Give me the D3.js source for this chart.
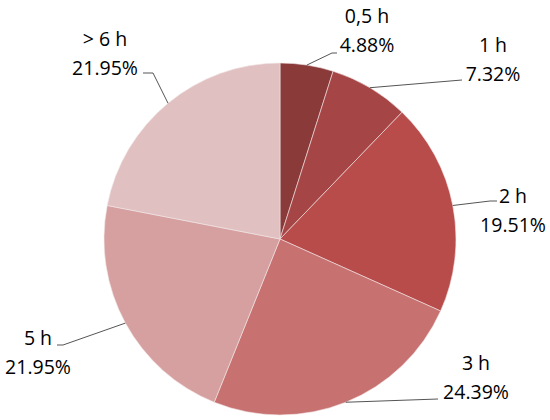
<!DOCTYPE html>
<html><head><meta charset="utf-8">
<script src="https://cdn.jsdelivr.net/npm/d3@7"></script>
<style>body{margin:0;background:#fff}svg{display:block}</style>
</head><body>
<svg id="c" width="550" height="420"></svg>
<script>
const categories = ["0,5 h", "1 h", "2 h", "3 h", "5 h", "> 6 h"];
const counts = [2, 3, 8, 10, 9, 9];
const percentLabels = ["4.88%", "7.32%", "19.51%", "24.39%", "21.95%", "21.95%"];
const colors = ["#8b3a3a", "#a54545", "#b84c4b", "#c87171", "#d6a0a0", "#e0c0c1"];
// label layout: text centre x, first baseline y, leader elbow points
const labelLayout = [
  {x: 367, y: 23, pts: [[332, 53], [337, 53]]},
  {x: 493, y: 52, pts: [[462, 80]]},
  {x: 513, y: 203, pts: [[490, 201], [497, 201]]},
  {x: 476, y: 370, pts: [[438, 399]]},
  {x: 38, y: 345, pts: [[63, 345], [57, 345]]},
  {x: 105, y: 46, pts: [[153, 73], [143, 73]]}
];

const svg = d3.select("#c");
const cx = 280, cy = 239, r = 176;
const g = svg.append("g").attr("transform", `translate(${cx},${cy})`);
const pie = d3.pie().sort(null).value(d => d)(counts);
const arc = d3.arc().innerRadius(0).outerRadius(r);
g.selectAll("path").data(pie).join("path")
  .attr("d", arc).attr("fill", (d, i) => colors[i])
  .attr("stroke", "#f2e6e6").attr("stroke-width", 0.6);

pie.forEach((d, i) => {
  const a = (d.startAngle + d.endAngle) / 2;
  const p0 = [cx + r * Math.sin(a), cy - r * Math.cos(a)];
  const pts = [p0].concat(labelLayout[i].pts);
  svg.append("path").attr("d", d3.line()(pts))
    .attr("fill", "none").attr("stroke", "#555").attr("stroke-width", 1);
  const t = svg.append("text").attr("text-anchor", "middle")
    .attr("font-family", "Open Sans, sans-serif").attr("font-size", 19.5).attr("fill", "#000");
  t.append("tspan").attr("x", labelLayout[i].x).attr("y", labelLayout[i].y).text(categories[i]);
  t.append("tspan").attr("x", labelLayout[i].x).attr("y", labelLayout[i].y + 29).text(percentLabels[i]);
});
</script>
</body></html>
